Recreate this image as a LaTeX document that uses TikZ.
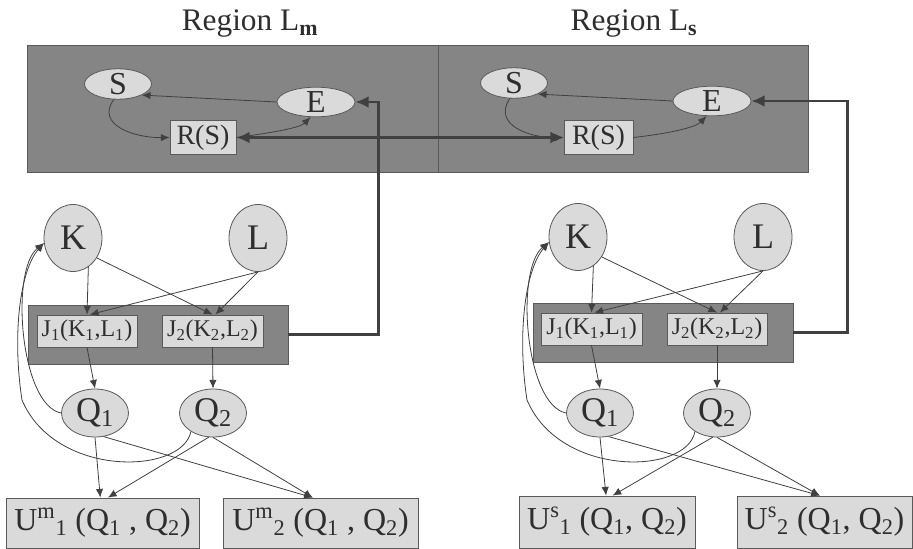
\documentclass[tikz,border=0pt]{standalone}
\usepackage{fontspec}
\setmainfont{Liberation Serif}
\usetikzlibrary{arrows.meta,shapes.geometric,calc}
\definecolor{boxgray}{HTML}{858585}
\definecolor{nodegray}{HTML}{DADADA}
\definecolor{edgegray}{HTML}{404040}
\definecolor{txtgray}{HTML}{2E2E2E}
\definecolor{bordergray}{HTML}{5A5A5A}
\newcommand\myfs[1]{\fontsize{#1}{#1}\selectfont}
\tikzset{
  sz/.style 2 args={minimum width=#1*0.75pt, minimum height=#2*0.75pt},
  region/.style={rectangle, draw=bordergray, fill=boxgray, inner sep=0pt, line width=0.6pt},
  ell/.style={ellipse, draw=bordergray, fill=nodegray, inner sep=0pt, text=txtgray, line width=0.6pt},
  rbox/.style={rectangle, draw=bordergray, fill=nodegray, inner sep=0pt, text=txtgray, line width=0.6pt},
  titletext/.style={text=txtgray, font=\myfs{23.5}, inner sep=0pt},
  thinedge/.style={draw=edgegray, line width=0.6pt, -{Latex[length=6.5pt,width=5.5pt]}},
  thickedge/.style={draw=edgegray, line width=2.2pt, -{Latex[length=10pt,width=9pt]}},
  dthickedge/.style={draw=edgegray, line width=2.2pt, {Latex[length=10pt,width=9pt]}-{Latex[length=10pt,width=9pt]}}
}
\begin{document}
\begin{tikzpicture}[x=0.75pt,y=-0.75pt]
\useasboundingbox (0,0) rectangle (913,549);

% ---------- top regions ----------
\node[region, sz={411}{127}] (topL) at (232.5,108.5) {};
\node[region, sz={370}{127}] (topR) at (623,108.5) {};
\node[titletext] (titleL) at (250,24) {Region L\textsubscript{\textbf{m}}};
\node[titletext] (titleR) at (634,24) {Region L\textsubscript{\textbf{s}}};

\node[ell, sz={67}{25}, font=\myfs{24}] (SL) at (118,84) {S};
\node[ell, sz={78}{29}, font=\myfs{24}] (EL) at (316,102) {E};
\node[rbox, sz={66}{34}, font=\myfs{21}] (RL) at (203,137.5) {R(S)};

\node[ell, sz={67}{25}, font=\myfs{24}] (SR) at (514,83) {S};
\node[ell, sz={78}{29}, font=\myfs{24}] (ER) at (712,101) {E};
\node[rbox, sz={69}{34}, font=\myfs{21}] (RR) at (598.5,137.5) {R(S)};

% ---------- lower left ----------
\node[ell, sz={58}{67}, font=\myfs{27}] (KL) at (73,238) {K};
\node[ell, sz={58}{67}, font=\myfs{27}] (LL) at (258,238) {L};
\node[region, sz={260}{59}] (JL) at (158,334.5) {};
\node[rbox, sz={100}{32}, font=\myfs{18}] (J1L) at (87,331) {J\textsubscript{1}(K\textsubscript{1},L\textsubscript{1})};
\node[rbox, sz={101}{32}, font=\myfs{18}] (J2L) at (212.5,331) {J\textsubscript{2}(K\textsubscript{2},L\textsubscript{2})};
\node[ell, sz={67}{48}, font=\myfs{26}] (Q1L) at (95,413) {Q\textsubscript{1}};
\node[ell, sz={67}{48}, font=\myfs{26}] (Q2L) at (213,413) {Q\textsubscript{2}};
\node[rbox, sz={193}{50}, font=\myfs{24}] (U1L) at (102.5,523) {U\textsuperscript{m}\textsubscript{1} (Q\textsubscript{1} , Q\textsubscript{2})};
\node[rbox, sz={195}{50}, font=\myfs{24}] (U2L) at (320.5,523) {U\textsuperscript{m}\textsubscript{2} (Q\textsubscript{1} , Q\textsubscript{2})};

% ---------- lower right ----------
\node[ell, sz={58}{67}, font=\myfs{27}] (KR) at (578,237) {K};
\node[ell, sz={58}{67}, font=\myfs{27}] (LR) at (763,237) {L};
\node[region, sz={260}{59}] (JR) at (663,332.5) {};
\node[rbox, sz={101}{32}, font=\myfs{18}] (J1R) at (591.5,329) {J\textsubscript{1}(K\textsubscript{1},L\textsubscript{1})};
\node[rbox, sz={100}{32}, font=\myfs{18}] (J2R) at (717,329) {J\textsubscript{2}(K\textsubscript{2},L\textsubscript{2})};
\node[ell, sz={67}{48}, font=\myfs{26}] (Q1R) at (600,413) {Q\textsubscript{1}};
\node[ell, sz={67}{48}, font=\myfs{26}] (Q2R) at (717,413) {Q\textsubscript{2}};
\node[rbox, sz={176}{52}, font=\myfs{24}] (U1R) at (607,522) {U\textsuperscript{s}\textsubscript{1} (Q\textsubscript{1}, Q\textsubscript{2})};
\node[rbox, sz={175}{52}, font=\myfs{24}] (U2R) at (824.5,522) {U\textsuperscript{s}\textsubscript{2} (Q\textsubscript{1}, Q\textsubscript{2})};

% ---------- top edges ----------
\draw[thinedge] (EL.west) -- (SL.335);
\draw[thinedge] (SL.255) .. controls (95,125) and (135,138) .. (RL.west);
\draw[thinedge] (RL.east) .. controls (270,133) and (300,128) .. (EL.250);
\draw[thinedge] (ER.west) -- (SR.335);
\draw[thinedge] (SR.255) .. controls (492,125) and (530,138) .. (RR.west);
\draw[thinedge] (RR.east) .. controls (665,134) and (695,128) .. (ER.250);
\draw[dthickedge] (RL.east) -- (RR.west);
\draw[thickedge] (JL.east) -- ++(90,0) |- (EL.east);
\draw[thickedge] (JR.east) -- ++(54,0) |- (ER.east);

% ---------- lower left edges ----------
\draw[thinedge] (KL.-62) -- (J1L.north);
\draw[thinedge] (KL.-40) -- (J2L.north);
\draw[thinedge] (LL.south) -- (J1L.80);
\draw[thinedge] (LL.south) -- (J2L.80);
\draw[thinedge] (J1L.south) -- (Q1L.north);
\draw[thinedge] (J2L.south) -- (Q2L.north);
\draw[thinedge] (Q1L.south) -- (U1L.95);
\draw[thinedge] (Q1L.-70) -- (U2L.107);
\draw[thinedge] (Q2L.-100) -- (U1L.78);
\draw[thinedge] (Q2L.south) -- (U2L.107);
\draw[thinedge] (Q1L.west) .. controls (20,405) and (10,270) .. (KL.190);
\draw[thinedge] (Q2L.220) .. controls (182,475) and (55,478) .. (22,400)
                 .. controls (12,335) and (20,270) .. (KL.190);

% ---------- lower right edges ----------
\draw[thinedge] (KR.-62) -- (J1R.north);
\draw[thinedge] (KR.-40) -- (J2R.north);
\draw[thinedge] (LR.south) -- (J1R.80);
\draw[thinedge] (LR.south) -- (J2R.80);
\draw[thinedge] (J1R.south) -- (Q1R.north);
\draw[thinedge] (J2R.south) -- (Q2R.north);
\draw[thinedge] (Q1R.south) -- (U1R.92);
\draw[thinedge] (Q1R.-70) -- (U2R.100);
\draw[thinedge] (Q2R.-100) -- (U1R.78);
\draw[thinedge] (Q2R.south) -- (U2R.100);
\draw[thinedge] (Q1R.west) .. controls (525,405) and (515,270) .. (KR.190);
\draw[thinedge] (Q2R.220) .. controls (687,475) and (560,478) .. (527,400)
                 .. controls (517,335) and (525,270) .. (KR.190);
\end{tikzpicture}
\end{document}
